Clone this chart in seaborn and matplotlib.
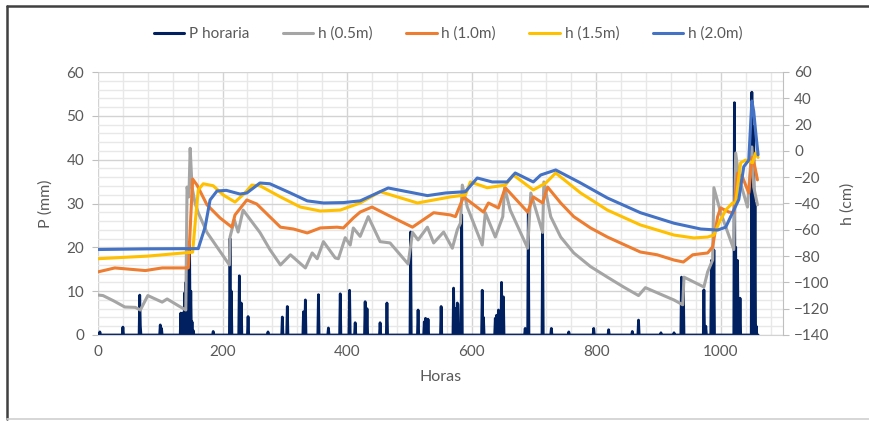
import matplotlib.pyplot as plt
import matplotlib.lines as mlines
import numpy as np
import pandas as pd
import seaborn as sns

sns.set_style("white")
plt.rcParams['font.family'] = ['Lato', 'DejaVu Sans']

# hourly rainfall (mm): hours with rain and their values, zero otherwise
rain_hours = [3, 40, 67, 68, 100, 102, 133, 136, 139, 141, 144, 147, 149, 151, 153,
              185, 212, 214, 227, 230, 241, 273, 296, 304, 330, 333, 354, 370, 389,
              404, 413, 429, 432, 453, 464, 502, 514, 524, 526, 528, 530, 551, 571,
              574, 577, 578, 584, 617, 619, 638, 640, 643, 648, 651, 686, 691, 714,
              728, 756, 796, 820, 858, 868, 904, 925, 937, 940, 973, 976, 985, 989,
              1022, 1024, 1027, 1031, 1050, 1053, 1055, 1057]
rain_mm = [0.7, 1.8, 9.1, 2, 2.3, 1.5, 5, 5, 9.6, 12, 16, 21.2, 10, 3, 1,
           0.8, 22, 10, 13.5, 7.3, 4.2, 0.7, 4.1, 6.5, 5.3, 8, 9.2, 1.6, 9.4,
           10.2, 2.8, 7.6, 6, 2.8, 7.3, 23.5, 5.7, 3, 3.8, 3.5, 3.6, 6.5, 10.7,
           6, 7.3, 7.0, 27.4, 10.2, 4, 3.8, 4.5, 5.7, 12, 8.7, 1.5, 28.5, 23.5,
           1.5, 0.7, 1.5, 1.2, 0.8, 3.4, 0.5, 0.5, 13.2, 11, 10.3, 2, 17, 19.4,
           53, 20, 17, 8.4, 55.4, 47.5, 30, 2]
last_hour = 1060

# water level h (cm) at different depths
h05_t = [0, 8, 25, 43, 60, 68, 80, 103, 111, 130, 141, 143, 146, 148, 151, 156, 161,
         175, 191, 211, 212, 219, 225, 233, 260, 276, 293, 309, 333, 344, 352, 362,
         381, 386, 397, 405, 410, 421, 434, 453, 469, 498, 505, 514, 529, 539, 555,
         569, 577, 582, 585, 593, 617, 622, 638, 650, 653, 662, 690, 695, 714, 716,
         727, 743, 764, 791, 818, 844, 868, 879, 925, 939, 941, 973, 979, 987, 989,
         1000, 1021, 1024, 1029, 1043, 1050, 1053, 1059]
h05_v = [-109.6, -110, -114, -118.7, -119, -121, -110, -115, -112.6, -118, -121, -27.5,
         -35, 2, -27.5, -40, -47, -62, -73, -86.7, -65.5, -52.5, -61.7, -45, -62, -75,
         -86.7, -79, -89, -77.6, -82, -69, -81.4, -82, -66, -71.6, -58.6, -65, -50, -69,
         -70, -86, -62, -67.7, -58, -70, -61.7, -74, -60, -55, -26, -42.7, -71.6, -47,
         -65.5, -50, -28, -45, -74, -32, -62, -23.6, -50, -65.5, -77.6, -88, -96, -103.5,
         -110, -104, -113.4, -117, -96, -103.5, -92, -83, -28, -47, -75, -1.6, -20, -42.7,
         3, -27.5, -41]

h10_t = [0, 27, 76, 103, 132, 145, 149, 152, 159, 175, 196, 215, 220, 239, 255, 293,
         314, 336, 357, 384, 394, 410, 421, 440, 465, 505, 539, 566, 574, 587, 619, 627,
         643, 654, 690, 699, 714, 722, 743, 764, 791, 818, 871, 898, 925, 940, 955, 979,
         987, 995, 1000, 1013, 1021, 1027, 1035, 1045, 1050, 1053, 1059]
h10_v = [-92, -89, -91, -89, -89, -89, -50, -21.4, -26, -41, -51, -58, -48.7, -37.3,
         -40.4, -58, -59.4, -62.4, -58.6, -58, -58.6, -51, -46.5, -42.7, -48.7, -58, -47,
         -48.7, -50, -35, -46.5, -39.6, -43.4, -28, -46.5, -35, -39.6, -27.5, -39.6, -50,
         -58.6, -65.5, -76.9, -79, -83, -84.5, -79, -77.6, -73, -50, -43.4, -46.5, -47,
         -17, -20, -32, -5, -8, -22]

h15_t = [0, 80, 152, 156, 161, 169, 185, 201, 220, 236, 247, 260, 293, 325, 357, 389,
         421, 453, 513, 566, 590, 598, 625, 654, 667, 699, 719, 735, 775, 818, 871, 925,
         957, 979, 989, 997, 1008, 1019, 1024, 1032, 1040, 1051, 1056, 1060]
h15_v = [-82, -80, -77, -55, -29.7, -25, -26.5, -33.5, -38.9, -32, -26, -26.5, -35,
         -42.7, -45.7, -45, -39.6, -31, -39.6, -35, -33.5, -23.6, -28, -26, -18.3, -29.7,
         -24.4, -16.8, -32, -45, -56.3, -64, -66.2, -65.5, -64, -55, -45, -39.6, -39.6,
         -9, -7, -9, -1.6, -5]

h20_t = [0, 80, 161, 172, 180, 191, 206, 228, 239, 260, 276, 309, 336, 362, 394, 421,
         466, 529, 558, 590, 609, 633, 657, 670, 699, 711, 735, 775, 818, 871, 925, 968,
         995, 1008, 1019, 1029, 1037, 1045, 1050, 1053, 1056, 1060]
h20_v = [-75, -74.5, -74.3, -57.9, -37.3, -30.5, -30, -32.8, -32, -24.4, -25, -32, -38,
         -39.6, -39.3, -38, -28.2, -34, -32, -31, -20.6, -23.6, -23.6, -16.8, -23.6,
         -18.3, -14.5, -24.4, -35.8, -47, -55, -59.4, -60.2, -58, -47, -37, -12, -7, 38,
         30, 15, -3]

rain = np.zeros(last_hour + 1)
rain[rain_hours] = rain_mm
df_rain = pd.DataFrame({"Horas": np.arange(last_hour + 1), "P": rain})

fig = plt.figure(figsize=(8.7, 4.21), dpi=100)
ax = fig.add_axes([98 / 870, 1 - 335 / 421, (783 - 98) / 870, (335 - 72) / 421])
ax2 = ax.twinx()

sns.lineplot(data=df_rain, x="Horas", y="P", ax=ax, color="#002060", lw=2.0)

series = [("h (0.5m)", h05_t, h05_v, "#A5A5A5"),
          ("h (1.0m)", h10_t, h10_v, "#ED7D31"),
          ("h (1.5m)", h15_t, h15_v, "#FFC000"),
          ("h (2.0m)", h20_t, h20_v, "#4472C4")]
for name, t, v, c in series:
    d = pd.DataFrame({"Horas": t, "h": v})
    sns.lineplot(data=d, x="Horas", y="h", ax=ax2, color=c, lw=2.2)

txt = "#595959"
ax.set_xlim(0, 1100)
ax.set_ylim(0, 60)
ax2.set_ylim(-140, 60)
ax.set_xticks(range(0, 1001, 200))
ax.set_xticks(range(0, 1100, 40), minor=True)
ax.set_yticks(range(0, 61, 10))
ax.set_yticks(range(0, 61, 2), minor=True)
ax2.set_yticks(range(-140, 61, 20))
ax.grid(which="major", color="#D3D3D3", lw=1)
ax.grid(which="minor", color="#E8E8E8", lw=1)
ax.set_axisbelow(True)

for a in (ax, ax2):
    for s in a.spines.values():
        s.set_visible(False)
ax.spines["bottom"].set_visible(True)
ax.spines["bottom"].set_color("#D3D3D3")
ax2.spines["right"].set_visible(True)
ax2.spines["right"].set_color("#BFBFBF")

ax.tick_params(axis="y", which="major", length=4, color="#BFBFBF", labelsize=11, labelcolor=txt, pad=6)
ax.tick_params(axis="x", which="major", length=0, labelsize=11, labelcolor=txt, pad=7)
ax.tick_params(which="minor", length=0)
ax2.tick_params(axis="y", length=4, color="#BFBFBF", labelsize=11, labelcolor=txt, pad=4)

ax.set_xlabel("Horas", fontsize=11.5, color=txt, labelpad=8)
ax.set_ylabel("P (mm)", fontsize=11.5, color=txt, labelpad=10)
ax2.set_ylabel("h (cm)", fontsize=11.5, color=txt, labelpad=8)

handles = [mlines.Line2D([], [], color="#002060", lw=2.2)]
handles += [mlines.Line2D([], [], color=c, lw=2.2) for _, _, _, c in series]
labels = ["P horaria"] + [s[0] for s in series]
fig.legend(handles, labels, loc="center", bbox_to_anchor=(0.515, 0.92), ncol=5,
           frameon=False, fontsize=11, labelcolor=txt, handlelength=2.0,
           columnspacing=2.2, handletextpad=0.3)

# chart frame
fig.add_artist(mlines.Line2D([7 / 870, 1], [1 - 6 / 421] * 2, color="#404040", lw=1.8))
fig.add_artist(mlines.Line2D([7 / 870] * 2, [1 - 6 / 421, 1 - 419 / 421], color="#404040", lw=1.8))
fig.add_artist(mlines.Line2D([7 / 870, 1], [1 - 419 / 421] * 2, color="#D0D0D0", lw=1.2))

fig.savefig("out.png", dpi=100)
